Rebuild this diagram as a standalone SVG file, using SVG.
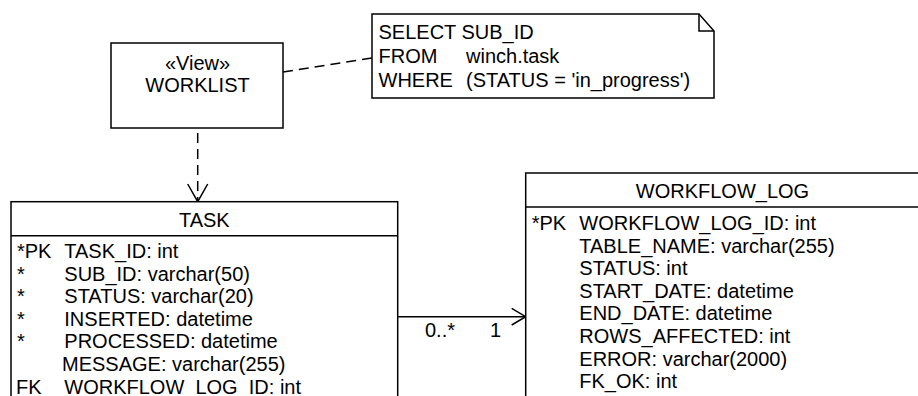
<svg xmlns="http://www.w3.org/2000/svg" width="918" height="396" viewBox="0 0 918 396">
<style>
text{font-family:"Liberation Sans",Arial,sans-serif;font-size:20px;fill:#000}
.box{fill:#fff;stroke:#000;stroke-width:1.5}
.ln{fill:none;stroke:#000;stroke-width:1.5}
.dash{fill:none;stroke:#000;stroke-width:1.5;stroke-dasharray:10,6}
.c{text-anchor:middle}
</style>
<rect width="918" height="396" fill="#fff"/>
<g id="connectors">
<line class="dash" x1="283" y1="72" x2="372" y2="58"/>
<line class="dash" x1="197.7" y1="133" x2="197.7" y2="201"/>
<polyline class="ln" points="187.7,184 197.7,201.7 207.7,184"/>
<line class="ln" x1="397.7" y1="316.7" x2="525.7" y2="316.7"/>
<polyline class="ln" points="511.7,308.3 525.7,316.7 511.7,325"/>
<text x="425" y="336.5">0..*</text>
<text x="490" y="336.5">1</text>
</g>
<g id="worklist">
<rect class="box" x="111" y="43" width="172" height="85"/>
<text class="c" x="197.5" y="69.5">«View»</text>
<text class="c" x="197.5" y="92">WORKLIST</text>
</g>
<g id="note">
<polygon class="box" points="372,14 699,14 714,31 714,98 372,98"/>
<polyline class="ln" points="699,14 699,31 714,31"/>
<text x="378.5" y="39">SELECT SUB_ID</text>
<text x="378.5" y="63">FROM</text>
<text x="466" y="63">winch.task</text>
<text x="378.5" y="87">WHERE</text>
<text x="466" y="87">(STATUS = 'in_progress')</text>
</g>
<g id="task">
<rect class="box" x="11" y="201.7" width="386.7" height="220"/>
<line class="ln" x1="11" y1="235.7" x2="397.7" y2="235.7"/>
<text class="c" x="204.3" y="226.7">TASK</text>
<text x="17" y="258">*PK</text>
<text x="64.3" y="258">TASK_ID: int</text>
<text x="17" y="280.6">*</text>
<text x="64.3" y="280.6">SUB_ID: varchar(50)</text>
<text x="17" y="303.2">*</text>
<text x="64.3" y="303.2">STATUS: varchar(20)</text>
<text x="17" y="325.8">*</text>
<text x="64.3" y="325.8">INSERTED: datetime</text>
<text x="17" y="348.4">*</text>
<text x="64.3" y="348.4">PROCESSED: datetime</text>
<text x="62" y="371">MESSAGE: varchar(255)</text>
<text x="16" y="393.6">FK</text>
<text x="64.3" y="393.6">WORKFLOW_LOG_ID: int</text>
</g>
<g id="workflow_log">
<rect class="box" x="525.7" y="173" width="400" height="260"/>
<line class="ln" x1="525.7" y1="207" x2="925" y2="207"/>
<text class="c" x="722.5" y="198.3">WORKFLOW_LOG</text>
<text x="531.7" y="230">*PK</text>
<text x="579.3" y="230">WORKFLOW_LOG_ID: int</text>
<text x="579.3" y="252.6">TABLE_NAME: varchar(255)</text>
<text x="579.3" y="275.2">STATUS: int</text>
<text x="579.3" y="297.8">START_DATE: datetime</text>
<text x="579.3" y="320.4">END_DATE: datetime</text>
<text x="579.3" y="343">ROWS_AFFECTED: int</text>
<text x="579.3" y="365.6">ERROR: varchar(2000)</text>
<text x="579.3" y="388.2">FK_OK: int</text>
</g>
</svg>
